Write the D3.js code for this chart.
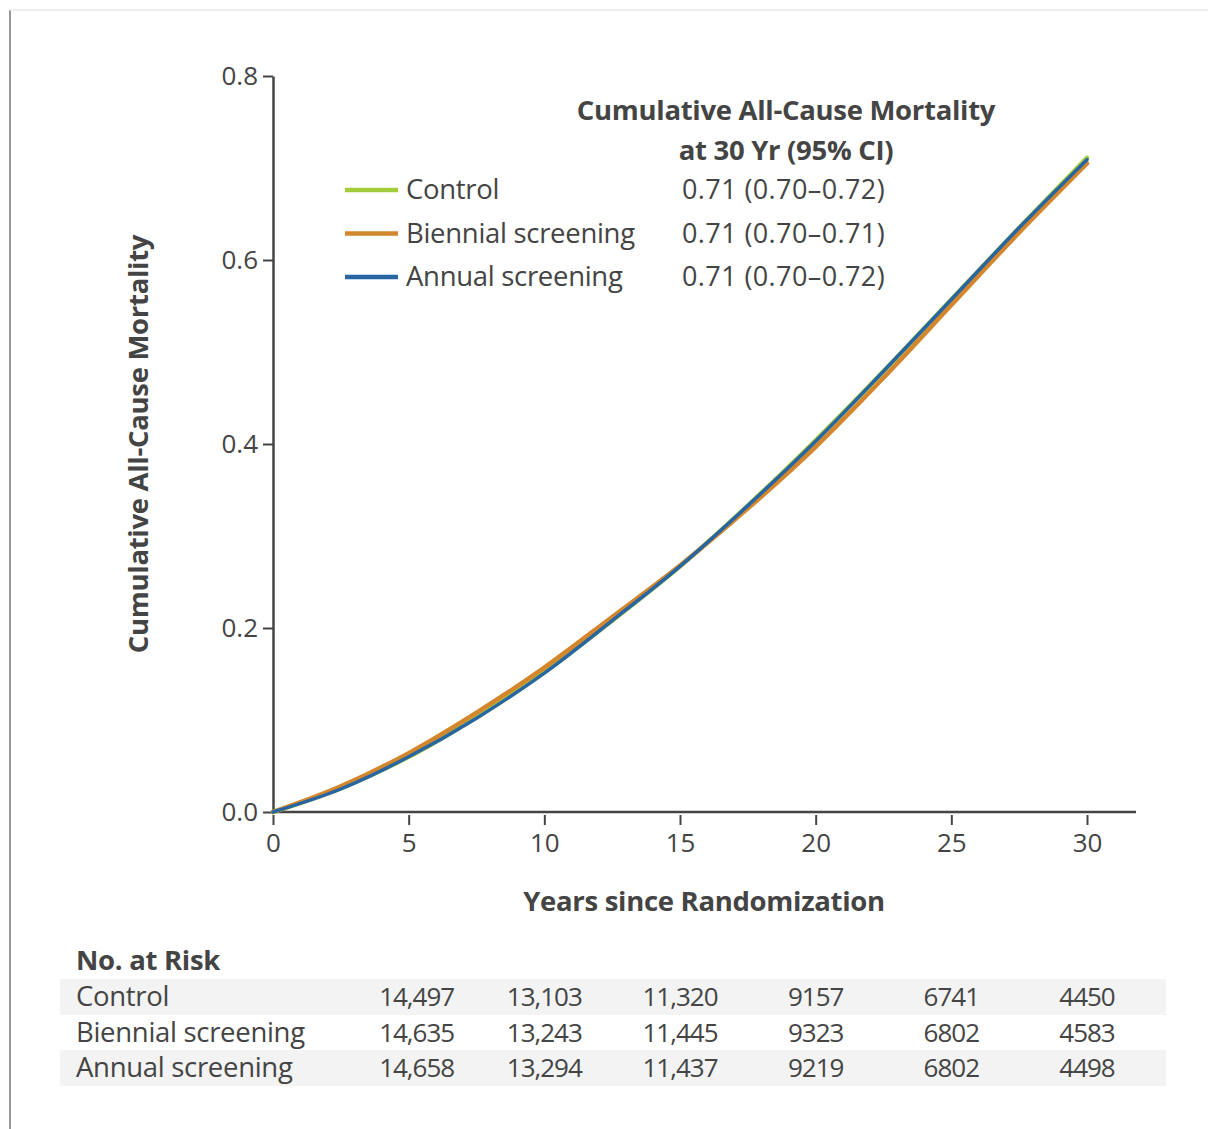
<!DOCTYPE html>
<html>
<head>
<meta charset="utf-8">
<script src="https://cdn.jsdelivr.net/npm/d3@7"></script>
<style>
  body { margin: 0; background: #fff; }
  text { font-family: "Open Sans", Lato, sans-serif; fill: #444; }
</style>
</head>
<body>
<script>
// values
const years = [0, 2.5, 5, 7.5, 10, 12.5, 15, 17.5, 20, 22.5, 25, 27.5, 30];
const control  = [0, 0.026, 0.060, 0.103, 0.152, 0.208, 0.267, 0.333, 0.404, 0.479, 0.557, 0.635, 0.711];
const biennial = [0, 0.028, 0.064, 0.108, 0.157, 0.212, 0.268, 0.330, 0.397, 0.472, 0.551, 0.630, 0.705];
const annual   = [0, 0.025, 0.060, 0.102, 0.151, 0.208, 0.267, 0.333, 0.403, 0.479, 0.557, 0.635, 0.709];

const groups = ["Control", "Biennial screening", "Annual screening"];
const colors = ["#a3cc3a", "#d3862c", "#2765a3"];
const ciText = ["0.71 (0.70\u20130.72)", "0.71 (0.70\u20130.71)", "0.71 (0.70\u20130.72)"];

const riskYears = [5, 10, 15, 20, 25, 30];
const riskControl  = ["14,497", "13,103", "11,320", "9157", "6741", "4450"];
const riskBiennial = ["14,635", "13,243", "11,445", "9323", "6802", "4583"];
const riskAnnual   = ["14,658", "13,294", "11,437", "9219", "6802", "4498"];

const yTicks = [0, 0.2, 0.4, 0.6, 0.8];
const xTicks = [0, 5, 10, 15, 20, 25, 30];

const svg = d3.select("body").append("svg")
    .attr("width", 1208)
    .attr("height", 1129);

// panel frame (left rule + faint top rule)
svg.append("line").attr("x1", 10).attr("x2", 10).attr("y1", 10).attr("y2", 1129)
    .attr("stroke", "#999").attr("stroke-width", 2);
svg.append("line").attr("x1", 10).attr("x2", 1208).attr("y1", 10).attr("y2", 10)
    .attr("stroke", "#eee").attr("stroke-width", 2);

const x = d3.scaleLinear().domain([0, 30]).range([273, 1087]);
const y = d3.scaleLinear().domain([0, 0.8]).range([812, 76]);

const axisCol = "#444";
const tickFont = "'Open Sans', sans-serif";

// y axis
const yAxis = svg.append("g")
    .attr("transform", "translate(273,0)")
    .call(d3.axisLeft(y).tickValues(yTicks).tickFormat(d3.format(".1f")).tickSize(10).tickSizeOuter(0));
yAxis.select(".domain").attr("stroke", axisCol).attr("stroke-width", 2.5);
yAxis.selectAll(".tick line").attr("stroke", axisCol).attr("stroke-width", 2);
yAxis.selectAll(".tick text").attr("font-size", 26).attr("font-family", tickFont)
    .attr("fill", "#444").attr("x", -15);

// x axis
svg.append("line").attr("x1", 273).attr("x2", 1136).attr("y1", 812).attr("y2", 812)
    .attr("stroke", axisCol).attr("stroke-width", 2.5);
const xAxis = svg.append("g")
    .attr("transform", "translate(0,815)")
    .call(d3.axisBottom(x).tickValues(xTicks).tickSize(10).tickSizeOuter(0));
xAxis.select(".domain").remove();
xAxis.selectAll(".tick line").attr("stroke", axisCol).attr("stroke-width", 2);
xAxis.selectAll(".tick text").attr("font-size", 26).attr("font-family", tickFont)
    .attr("fill", "#444").attr("y", 19);

// axis titles
svg.append("text")
    .attr("transform", "translate(148,444) rotate(-90)")
    .attr("text-anchor", "middle")
    .attr("font-size", 27.5).attr("font-weight", "bold").attr("fill", "#333")
    .attr("letter-spacing", -0.3)
    .text("Cumulative All-Cause Mortality");
svg.append("text")
    .attr("x", 704).attr("y", 911)
    .attr("text-anchor", "middle")
    .attr("font-size", 27.5).attr("font-weight", "bold").attr("fill", "#333")
    .attr("letter-spacing", -0.3)
    .text("Years since Randomization");

// curves
const line = d3.line()
    .x(d => x(d[0]))
    .y(d => y(d[1]))
    .curve(d3.curveMonotoneX);

[control, biennial, annual].forEach((vals, i) => {
    svg.append("path")
        .attr("d", line(years.map((t, j) => [t, vals[j]])))
        .attr("fill", "none")
        .attr("stroke", colors[i])
        .attr("stroke-width", i == 2 ? 3.5 : 4.5)
        .attr("stroke-linecap", "round");
});

// legend
svg.append("text").attr("x", 786).attr("y", 120).attr("text-anchor", "middle")
    .attr("font-size", 27.5).attr("font-weight", "bold").attr("fill", "#333")
    .attr("letter-spacing", -0.3)
    .text("Cumulative All-Cause Mortality");
svg.append("text").attr("x", 786).attr("y", 160).attr("text-anchor", "middle")
    .attr("font-size", 27.5).attr("font-weight", "bold").attr("fill", "#333")
    .attr("letter-spacing", -0.3)
    .text("at 30 Yr (95% CI)");

const leg = svg.selectAll(".leg")
    .data(groups)
    .enter()
    .append("g")
    .attr("transform", (d, i) => "translate(0," + (190 + i * 43.5) + ")");
leg.append("line")
    .attr("x1", 345).attr("x2", 398)
    .attr("stroke", (d, i) => colors[i])
    .attr("stroke-width", 4.5);
leg.append("text")
    .attr("x", 406).attr("y", 9)
    .attr("font-size", 27.5)
    .attr("letter-spacing", -0.3)
    .text(d => d);
leg.append("text")
    .attr("x", 682).attr("y", 9)
    .attr("font-size", 27)
    .attr("letter-spacing", 0.4)
    .text((d, i) => ciText[i]);

// number at risk table
svg.append("text").attr("x", 76).attr("y", 970)
    .attr("font-size", 27.5).attr("font-weight", "bold").attr("fill", "#222")
    .attr("letter-spacing", -0.3)
    .text("No. at Risk");

const rows = [riskControl, riskBiennial, riskAnnual];
const rowY = i => 997 + i * 35.5;

svg.selectAll(".band")
    .data([0, 2])
    .enter()
    .append("rect")
    .attr("x", 60).attr("width", 1106)
    .attr("y", i => rowY(i) - 18).attr("height", 36)
    .attr("fill", "#f3f3f3");

rows.forEach((vals, i) => {
    svg.append("text")
        .attr("x", 76).attr("y", rowY(i) + 9)
        .attr("font-size", 27.5)
        .attr("letter-spacing", -0.3)
        .text(groups[i]);
    svg.selectAll(".r" + i)
        .data(vals)
        .enter()
        .append("text")
        .attr("x", (d, j) => x(riskYears[j]) + (j == 0 ? 8 : 0))
        .attr("y", rowY(i) + 9)
        .attr("text-anchor", "middle")
        .attr("font-size", 26)
        .attr("letter-spacing", -1)
        .text(d => d);
});
</script>
</body>
</html>
